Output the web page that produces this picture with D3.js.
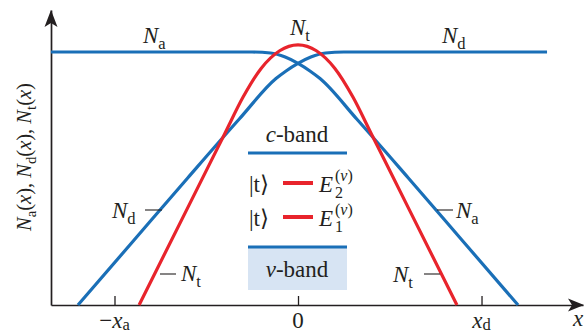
<!DOCTYPE html>
<html>
<head>
<meta charset="utf-8">
<script src="https://cdn.jsdelivr.net/npm/d3@7"></script>
<style>
  body { margin: 0; background: #fff; }
  svg { display: block; }
  text { font-family: "Liberation Serif", "Times New Roman", serif; fill: #231f20; }
</style>
</head>
<body>
<svg id="chart"></svg>
<script>
// x in units of x_d (x_a = x_d = 1), y in units of the flat doping level
const naX = [-1.346, -0.6, -0.4, -0.25, -0.15, -0.07, 0, 0.065, 0.12, 0.32, 0.6, 0.9, 1.199];
const naY = [1, 1, 1, 1, 0.996, 0.98, 0.955, 0.925, 0.895, 0.735, 0.503, 0.251, 0];

const ndX = [-1.199, -0.9, -0.6, -0.32, -0.12, -0.065, 0, 0.07, 0.15, 0.25, 0.4, 0.8, 1.357];
const ndY = [0, 0.251, 0.503, 0.735, 0.895, 0.925, 0.955, 0.98, 0.996, 1, 1, 1, 1];

const ntX = [-0.866, -0.6, -0.4, -0.3, -0.2, -0.1, 0, 0.1, 0.2, 0.3, 0.4, 0.6, 0.866];
const ntY = [0, 0.386, 0.676, 0.821, 0.936, 1.005, 1.028, 1.005, 0.936, 0.821, 0.676, 0.386, 0];

const tickValues = [-1, 0, 1];
const tickLabels = [
  [{ t: '\u2212' }, { t: 'x', it: true }, { t: 'a', sub: true }],
  [{ t: '0' }],
  [{ t: 'x', it: true }, { t: 'd', sub: true }]
];

const width = 585, height = 336;
const blue = '#1a6fb7', red = '#e8242c', ink = '#231f20';
const serif = '"Liberation Serif", "Times New Roman", serif';

const svg = d3.select('#chart').attr('width', width).attr('height', height);

const x = d3.scaleLinear().domain([-1.346, 1.553]).range([51, 583]);
const y = d3.scaleLinear().domain([0, 1.166]).range([305, 10]);

// rich text: italic parts and subscripts
function rich(sel, parts, size, subShift = 0.26) {
  let shift = 0;
  sel.attr('font-family', serif);
  parts.forEach(p => {
    const target = p.sub ? size * subShift : 0;
    sel.append('tspan')
      .text(p.t)
      .attr('font-style', p.it ? 'italic' : 'normal')
      .attr('font-size', p.sub ? size * 0.72 : size)
      .attr('dy', target - shift);
    shift = target;
  });
  return sel;
}

// axes
svg.append('g')
  .attr('transform', `translate(0,${y(0)})`)
  .call(d3.axisBottom(x).tickValues(tickValues).tickSize(-9).tickSizeOuter(0).tickFormat(''))
  .call(g => g.select('.domain').attr('stroke', ink).attr('stroke-width', 1.7))
  .call(g => g.selectAll('.tick line').attr('stroke', ink).attr('stroke-width', 1.3));

svg.append('g')
  .attr('transform', `translate(${x.range()[0]},0)`)
  .call(d3.axisLeft(y).ticks(0).tickSizeOuter(0))
  .call(g => g.select('.domain').attr('stroke', ink).attr('stroke-width', 1.7));

// arrow heads
const x1 = x.range()[1], y1 = y.range()[1], x0 = x.range()[0], y0 = y.range()[0];
svg.append('path')
  .attr('d', `M${x1 + 1},${y0} L${x1 - 15},${y0 - 6.5} L${x1 - 11},${y0} L${x1 - 15},${y0 + 6.5} Z`)
  .attr('fill', ink);
svg.append('path')
  .attr('d', `M${x0},${y1} L${x0 - 6.5},${y1 + 17} L${x0},${y1 + 13} L${x0 + 6.5},${y1 + 17} Z`)
  .attr('fill', ink);

// tick labels
tickValues.forEach((v, i) => {
  rich(svg.append('text').attr('x', x(v)).attr('y', 328).attr('text-anchor', 'middle'), tickLabels[i], 23, 0.1);
});
svg.append('text').attr('x', 578).attr('y', 326).attr('text-anchor', 'middle')
  .attr('font-family', serif).attr('font-style', 'italic').attr('font-size', 23).text('x');

// y label
rich(svg.append('text')
  .attr('transform', 'translate(31,157) rotate(-90)')
  .attr('text-anchor', 'middle'),
  [{ t: 'N', it: true }, { t: 'a', sub: true }, { t: '(' }, { t: 'x', it: true }, { t: '), ' },
   { t: 'N', it: true }, { t: 'd', sub: true }, { t: '(' }, { t: 'x', it: true }, { t: '), ' },
   { t: 'N', it: true }, { t: 't', sub: true }, { t: '(' }, { t: 'x', it: true }, { t: ')' }], 20.5);

// curves
const line = d3.line().x(d => x(d[0])).y(d => y(d[1])).curve(d3.curveMonotoneX);
const series = [
  { xs: naX, ys: naY, color: blue },
  { xs: ndX, ys: ndY, color: blue },
  { xs: ntX, ys: ntY, color: red }
];
series.forEach(s => {
  svg.append('path')
    .datum(s.xs.map((v, i) => [v, s.ys[i]]))
    .attr('d', line)
    .attr('fill', 'none')
    .attr('stroke', s.color)
    .attr('stroke-width', 3.2);
});

// curve labels
const lab = (px, py, sub, size = 23) =>
  rich(svg.append('text').attr('x', px).attr('y', py), [{ t: 'N', it: true }, { t: sub, sub: true }], size);
lab(143, 43, 'a');
lab(290, 35, 't');
lab(442, 43, 'd');
lab(112, 218, 'd');
lab(181, 281, 't');
lab(456, 218, 'a');
lab(393, 282, 't');

const leaders = [[145, 162, 210], [160, 176, 274], [437, 453, 210], [424, 440, 274]];
leaders.forEach(l => {
  svg.append('line').attr('x1', l[0]).attr('x2', l[1]).attr('y1', l[2]).attr('y2', l[2])
    .attr('stroke', ink).attr('stroke-width', 1.1);
});

// band diagram inset
const bx0 = 248, bx1 = 347;
svg.append('rect').attr('x', bx0).attr('y', 247).attr('width', bx1 - bx0).attr('height', 43).attr('fill', '#d7e4f3');
svg.append('line').attr('x1', bx0).attr('x2', bx1).attr('y1', 153).attr('y2', 153).attr('stroke', blue).attr('stroke-width', 3);
svg.append('line').attr('x1', bx0).attr('x2', bx1).attr('y1', 247).attr('y2', 247).attr('stroke', blue).attr('stroke-width', 3);

rich(svg.append('text').attr('x', 297).attr('y', 142).attr('text-anchor', 'middle'),
  [{ t: 'c', it: true }, { t: '-band' }], 23);
rich(svg.append('text').attr('x', 297).attr('y', 277).attr('text-anchor', 'middle'),
  [{ t: 'v', it: true }, { t: '-band' }], 23);

[[192, 183, '2'], [226, 217, '1']].forEach(r => {
  svg.append('text').attr('x', 249).attr('y', r[0]).attr('font-family', serif).attr('font-size', 23).text('|t\u27E9');
  svg.append('line').attr('x1', 283).attr('x2', 313).attr('y1', r[1]).attr('y2', r[1])
    .attr('stroke', red).attr('stroke-width', 4);
  svg.append('text').attr('x', 319).attr('y', r[0]).attr('font-family', serif).attr('font-size', 23).attr('font-style', 'italic').text('E');
  svg.append('text').attr('x', 335).attr('y', r[0] + 6).attr('font-family', serif).attr('font-size', 16).text(r[2]);
  rich(svg.append('text').attr('x', 335).attr('y', r[0] - 11),
    [{ t: '(' }, { t: 'v', it: true }, { t: ')' }], 16);
});
</script>
</body>
</html>
